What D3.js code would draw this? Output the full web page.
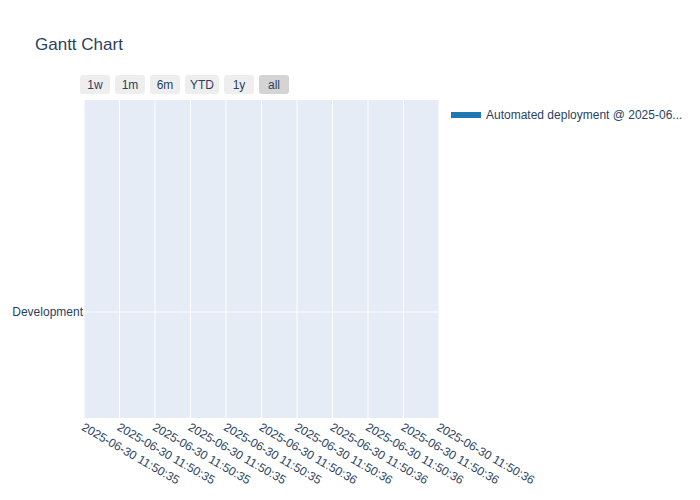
<!DOCTYPE html>
<html>
<head>
<meta charset="utf-8">
<script src="https://cdn.jsdelivr.net/npm/d3@7"></script>
<style>
  body { margin: 0; background: #fff; }
  svg text { font-family: "Liberation Sans", Arial, sans-serif; fill: #2a3f5f; }
</style>
</head>
<body>
<svg id="chart" width="700" height="500"></svg>
<script>
// task data (start == finish, so the bar has no width)
var tasks = ['Development'],
    starts = ['2025-06-30 11:50:36.000'],
    finishes = ['2025-06-30 11:50:36.000'],
    resources = ['Automated deployment @ 2025-06...'];

var xRange = ['2025-06-30 11:50:35.500', '2025-06-30 11:50:36.500'],
    yRange = [-1, tasks.length + 1],
    buttons = ['1w', '1m', '6m', 'YTD', '1y', 'all'],
    activeButton = 'all';

var parse = d3.timeParse('%Y-%m-%d %H:%M:%S.%L'),
    fmt = d3.timeFormat('%Y-%m-%d %H:%M:%S');

var svg = d3.select('#chart'),
    plotL = 84, plotR = 439, plotT = 100, plotB = 418;

var x = d3.scaleTime().domain(xRange.map(parse)).range([plotL, plotR]),
    y = d3.scaleLinear().domain(yRange).range([plotB, plotT]);

// title
svg.append('text')
    .attr('x', 35).attr('y', 50)
    .style('font-size', '17px')
    .text('Gantt Chart');

// plot background
svg.append('rect')
    .attr('x', plotL).attr('y', plotT)
    .attr('width', plotR - plotL).attr('height', plotB - plotT)
    .attr('fill', '#e5ecf6');

var ticks = x.ticks(d3.timeMillisecond.every(100));

svg.append('g').selectAll('line')
    .data(ticks)
    .join('line')
    .attr('x1', d => x(d)).attr('x2', d => x(d))
    .attr('y1', plotT).attr('y2', plotB)
    .attr('stroke', '#fff').attr('stroke-width', 1);

svg.append('g').selectAll('line')
    .data(tasks)
    .join('line')
    .attr('x1', plotL).attr('x2', plotR)
    .attr('y1', (d, i) => y(i)).attr('y2', (d, i) => y(i))
    .attr('stroke', '#fff').attr('stroke-width', 1);

// bars
svg.append('g').selectAll('rect')
    .data(tasks)
    .join('rect')
    .attr('x', (d, i) => x(parse(starts[i])))
    .attr('width', (d, i) => Math.max(0, x(parse(finishes[i])) - x(parse(starts[i]))))
    .attr('y', (d, i) => y(i + 0.2))
    .attr('height', (d, i) => y(i - 0.2) - y(i + 0.2))
    .attr('fill', '#1f77b4');

// x tick labels, rotated
svg.append('g').selectAll('text')
    .data(ticks)
    .join('text')
    .attr('transform', d => 'translate(' + (x(d) + 1) + ',422) rotate(30)')
    .attr('dy', '0.71em')
    .style('font-size', '12px')
    .text(d => fmt(d));

// y tick labels
svg.append('g').selectAll('text')
    .data(tasks)
    .join('text')
    .attr('x', plotL - 1).attr('y', (d, i) => y(i))
    .attr('dy', '0.35em')
    .attr('text-anchor', 'end')
    .style('font-size', '12px')
    .text(d => d);

// range selector buttons
var bx = 80;
var btn = svg.append('g').selectAll('g')
    .data(buttons)
    .join('g')
    .attr('transform', function (d) {
        var w = d == 'YTD' ? 34 : 30,
            t = 'translate(' + bx + ',75)';
        bx += w + 5;
        this.__w = w;
        return t;
    });
btn.append('rect')
    .attr('width', function () { return this.parentNode.__w; })
    .attr('height', 19).attr('rx', 3)
    .attr('fill', d => d == activeButton ? '#d4d4d4' : '#eeeeee');
btn.append('text')
    .attr('x', function () { return this.parentNode.__w / 2; })
    .attr('y', 9.5).attr('dy', '0.35em')
    .attr('text-anchor', 'middle')
    .style('font-size', '12px')
    .text(d => d);

// legend
var legend = svg.append('g').selectAll('g')
    .data(resources)
    .join('g')
    .attr('transform', (d, i) => 'translate(451,' + (115 + i * 19) + ')');
legend.append('rect')
    .attr('x', 0).attr('y', -3).attr('width', 30).attr('height', 6)
    .attr('fill', '#1f77b4');
legend.append('text')
    .attr('x', 35).attr('dy', '0.35em')
    .style('font-size', '12px')
    .text(d => d);
</script>
</body>
</html>
